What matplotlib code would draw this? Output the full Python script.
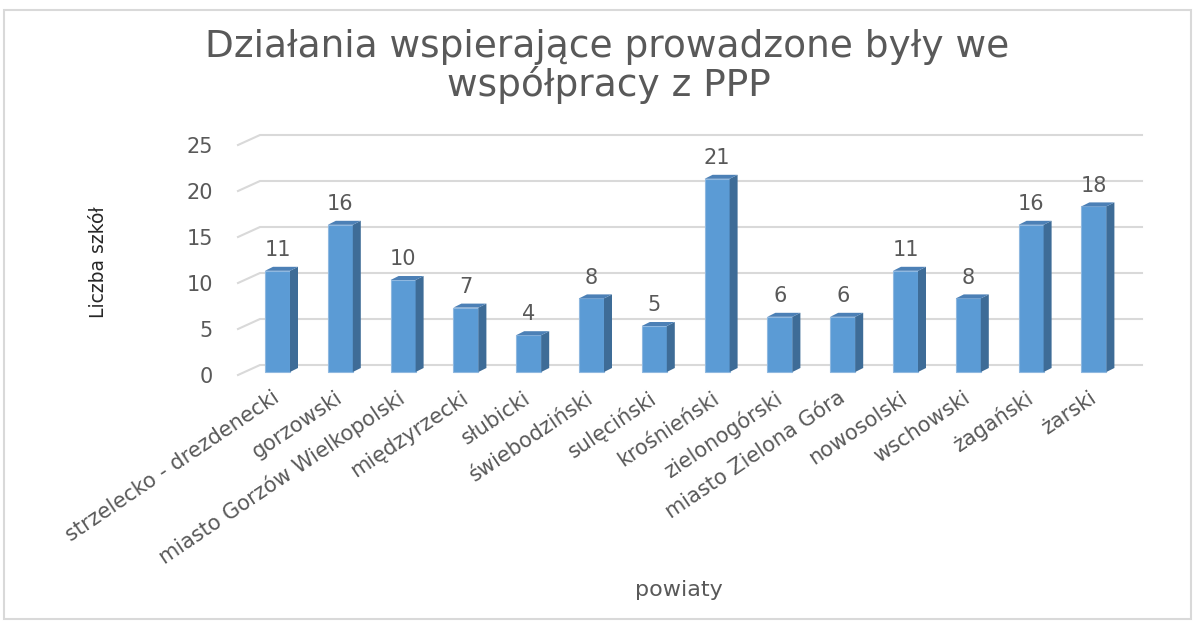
import matplotlib
matplotlib.use("Agg")
import matplotlib.pyplot as plt
from matplotlib.patches import Polygon, Rectangle

# data
powiaty = [
    "strzelecko - drezdenecki", "gorzowski", "miasto Gorzów Wielkopolski",
    "międzyrzecki", "słubicki", "świebodziński", "sulęciński", "krośnieński",
    "zielonogórski", "miasto Zielona Góra", "nowosolski", "wschowski",
    "żagański", "żarski",
]
liczba_szkol = [11, 16, 10, 7, 4, 8, 5, 21, 6, 6, 11, 8, 16, 18]
y_ticks = [0, 5, 10, 15, 20, 25]
title_lines = ["Działania wspierające prowadzone były we", "współpracy z PPP"]

W, H = 1196, 626
TEXT = "#595959"
GRID = "#d9d9d9"
FRONT = "#5b9bd5"
SIDE = "#3e6c97"
TOP = "#4c80b6"


def px(x, y):
    """Pixel position (from top-left) to figure fraction."""
    return x / W, 1 - y / H


def main():
    fig = plt.figure(figsize=(W / 100, H / 100), dpi=100)

    # axes = front plane of the pseudo-3D chart
    left, right, bottom, top = 238, 1142, 375, 145
    ax = fig.add_axes([left / W, 1 - bottom / H, (right - left) / W, (bottom - top) / H])
    step = 62.8                      # px between bars
    x0 = (left - 277.5) / step
    x1 = (right - 277.5) / step
    ax.set_xlim(x0, x1)
    ax.set_ylim(0, 25)
    upx = 25 / (bottom - top)        # value units per pixel
    xpx = 1 / step                   # index units per pixel

    # gridlines with the slanted left wall
    back_dx = x0 + 22 * xpx
    back_dy = 10 * upx
    for v in y_ticks:
        ax.plot([x0, back_dx, x1], [v, v + back_dy, v + back_dy],
                color=GRID, lw=1.5, clip_on=False, zorder=1)

    # bars: front face + side + top
    base = 3 * upx
    bw = 25 * xpx
    depth_x = 8 * xpx
    depth_y = 4 * upx
    xs = list(range(len(liczba_szkol)))
    ax.bar(xs, liczba_szkol, width=bw, bottom=base, color=FRONT,
           edgecolor="#8fb8e0", linewidth=0.8, zorder=3)
    for i, v in zip(xs, liczba_szkol):
        r = i + bw / 2
        l = i - bw / 2
        t = base + v
        ax.add_patch(Polygon([(r, base), (r + depth_x, base + depth_y),
                              (r + depth_x, t + depth_y), (r, t)],
                             closed=True, color=SIDE, lw=0, zorder=3))
        ax.add_patch(Polygon([(l, t), (r, t), (r + depth_x, t + depth_y),
                              (l + depth_x, t + depth_y)],
                             closed=True, color=TOP, lw=0, zorder=3))
        ax.annotate(str(v), (i, t), xytext=(0, 15), textcoords="offset points",
                    ha="center", va="center", fontsize=15, color=TEXT)

    for s in ax.spines.values():
        s.set_visible(False)
    ax.set_yticks(y_ticks)
    ax.set_yticklabels([str(v) for v in y_ticks], fontsize=15, color=TEXT)
    ax.set_xticks(xs)
    ax.set_xticklabels(powiaty, rotation=34, ha="right", va="center",
                       rotation_mode="anchor", fontsize=15, color=TEXT)
    ax.tick_params(axis="y", length=0, pad=18)
    ax.tick_params(axis="x", length=0, pad=15)
    ax.patch.set_alpha(0)

    # titles
    fig.text(*px(607, 47), title_lines[0], ha="center", va="center",
             fontsize=27, color=TEXT)
    fig.text(*px(609, 85), title_lines[1], ha="center", va="center",
             fontsize=27, color=TEXT)
    fig.text(*px(98, 262), "Liczba szkół", rotation=90, ha="center", va="center",
             fontsize=13.5, color="#262626")
    fig.text(*px(679, 590), "powiaty", ha="center", va="center",
             fontsize=16, color=TEXT)

    # chart border
    fig.patches.append(Rectangle(px(4, 619), 1187 / W, 609 / H,
                                 transform=fig.transFigure, fill=False,
                                 edgecolor=GRID, lw=1.5))

    fig.savefig("out.png", dpi=100)


if __name__ == "__main__":
    main()
